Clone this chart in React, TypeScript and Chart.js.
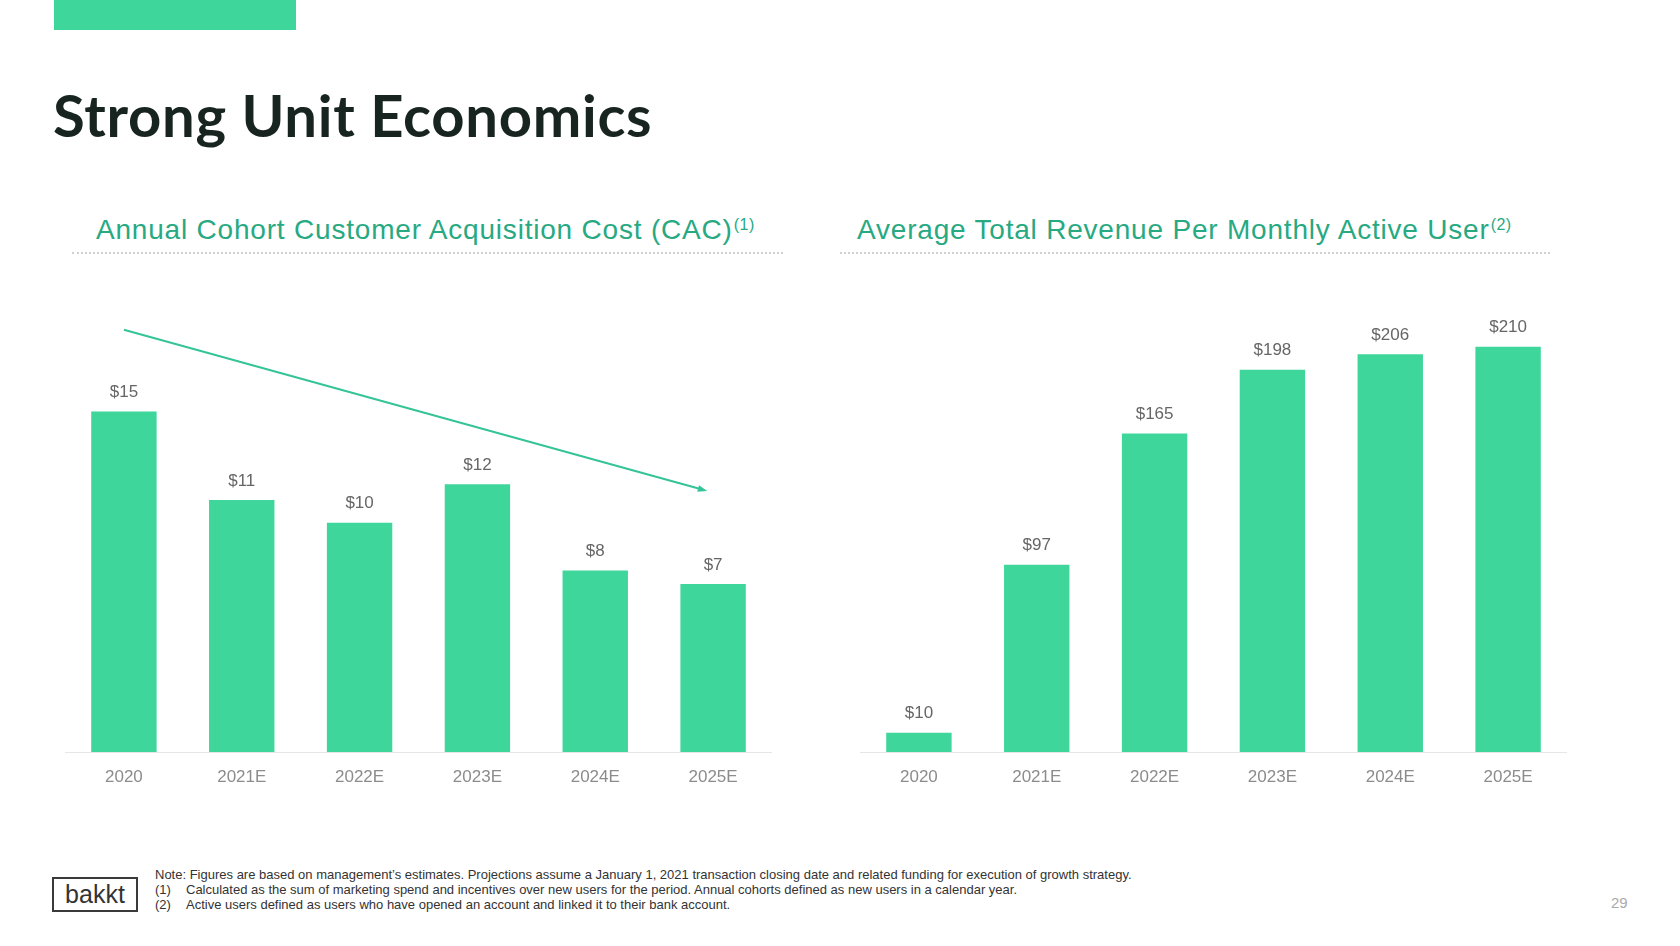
import React, { useEffect, useRef } from "react";
import { Chart, registerables } from "chart.js";

Chart.register(...registerables);

// ---- data ----
const categories = ["2020", "2021E", "2022E", "2023E", "2024E", "2025E"];
const cacValues = [15.0, 11.1, 10.1, 11.8, 8.0, 7.4];
const arpuValues = [10, 97, 165, 198, 206, 210];
// trend arrow on the CAC chart: [category index, value]
const trendStart = [0, 18.6];
const trendEnd = [4.95, 11.5];

const cacTitle = "Annual Cohort Customer Acquisition Cost (CAC)";
const arpuTitle = "Average Total Revenue Per Monthly Active User";
const footNote = "Note: Figures are based on management\u2019s estimates. Projections assume a January 1, 2021 transaction closing date and related funding for execution of growth strategy.";
const footOne = "Calculated as the sum of marketing spend and incentives over new users for the period. Annual cohorts defined as new users in a calendar year.";
const footTwo = "Active users defined as users who have opened an account and linked it to their bank account.";

const BAR = "#3ed69a";
const FONT = "'Liberation Sans', Arial, sans-serif";

const valueLabelPlugin = {
  id: "valueLabels",
  afterDatasetsDraw(chart: any) {
    const { ctx } = chart;
    const meta = chart.getDatasetMeta(0);
    const data = chart.data.datasets[0].data as number[];
    ctx.save();
    ctx.font = `17px ${FONT}`;
    ctx.fillStyle = "#666666";
    ctx.textAlign = "center";
    ctx.textBaseline = "middle";
    meta.data.forEach((bar: any, i: number) => {
      ctx.fillText("$" + Math.round(data[i]), bar.x, bar.y - 19);
    });
    ctx.restore();
  },
};

const arrowPlugin = {
  id: "trendArrow",
  afterDatasetsDraw(chart: any, _args: any, opts: any) {
    if (!opts || !opts.enabled) return;
    const { ctx, scales } = chart;
    const x1 = scales.x.getPixelForValue(trendStart[0]);
    const y1 = scales.y.getPixelForValue(trendStart[1]);
    const x2 = scales.x.getPixelForValue(trendEnd[0]);
    const y2 = scales.y.getPixelForValue(trendEnd[1]);
    const ang = Math.atan2(y2 - y1, x2 - x1);
    const head = 10;
    ctx.save();
    ctx.strokeStyle = "#34c497";
    ctx.fillStyle = "#34c497";
    ctx.lineWidth = 2;
    ctx.beginPath();
    ctx.moveTo(x1, y1);
    ctx.lineTo(x2 - Math.cos(ang) * head * 0.8, y2 - Math.sin(ang) * head * 0.8);
    ctx.stroke();
    ctx.beginPath();
    ctx.moveTo(x2, y2);
    ctx.lineTo(x2 - head * Math.cos(ang - 0.35), y2 - head * Math.sin(ang - 0.35));
    ctx.lineTo(x2 - head * Math.cos(ang + 0.35), y2 - head * Math.sin(ang + 0.35));
    ctx.closePath();
    ctx.fill();
    ctx.restore();
  },
};

function BarChart(props: { values: number[]; yMax: number; arrow: boolean; left: number }) {
  const ref = useRef<HTMLCanvasElement | null>(null);
  useEffect(() => {
    if (!ref.current) return;
    const chart = new Chart(ref.current, {
      type: "bar",
      data: {
        labels: categories,
        datasets: [
          {
            data: props.values,
            backgroundColor: BAR,
            borderWidth: 0,
            barPercentage: 0.555,
            categoryPercentage: 1,
          },
        ],
      },
      options: {
        responsive: false,
        animation: false,
        devicePixelRatio: 1,
        layout: { padding: 0 },
        plugins: {
          legend: { display: false },
          tooltip: { enabled: false },
          trendArrow: { enabled: props.arrow },
        } as any,
        scales: {
          x: {
            grid: { display: true, color: "rgba(0,0,0,0)", drawTicks: false },
            border: { display: true, color: "#e6e6e6", width: 1 },
            ticks: {
              color: "#8c8c8c",
              font: { family: FONT, size: 17 },
              padding: 15,
            },
            afterFit(scale: any) {
              scale.height = 45;
            },
          },
          y: {
            display: false,
            min: 0,
            max: props.yMax,
          },
        },
      },
      plugins: [valueLabelPlugin, arrowPlugin],
    });
    return () => chart.destroy();
  }, []);
  return (
    <canvas
      ref={ref}
      width={707}
      height={499}
      style={{ position: "absolute", left: props.left, top: 298, width: 707, height: 499 }}
    />
  );
}

export default function App() {
  const sub: React.CSSProperties = {
    position: "absolute",
    top: 213,
    fontFamily: FONT,
    fontSize: 28,
    letterSpacing: "0.8px",
    color: "#27a982",
    whiteSpace: "nowrap",
    lineHeight: "34px",
  };
  const sup: React.CSSProperties = { fontSize: 16, letterSpacing: "0.5px", verticalAlign: "top", position: "relative", top: -5, marginLeft: 1 };
  const dots = (left: number, width: number): React.CSSProperties => ({
    position: "absolute",
    left,
    top: 252,
    width,
    height: 0,
    borderTop: "2px dotted #cfcfcf",
  });
  const foot: React.CSSProperties = {
    position: "absolute",
    fontFamily: FONT,
    fontSize: 13,
    color: "#333",
    whiteSpace: "nowrap",
    lineHeight: "15px",
  };
  return (
    <div style={{ position: "absolute", left: 0, top: 0, width: 1680, height: 946, background: "#fff", overflow: "hidden" }}>
      <div style={{ position: "absolute", left: 54, top: 0, width: 242, height: 30, background: BAR }} />
      <div
        style={{
          position: "absolute",
          left: 53,
          top: 80,
          fontFamily: "Lato, sans-serif",
          fontWeight: 700,
          fontSize: 58,
          letterSpacing: "0.7px",
          lineHeight: "70px",
          color: "#17241f",
          whiteSpace: "nowrap",
        }}
      >
        Strong Unit Economics
      </div>

      <div style={{ ...sub, left: 96 }}>
        {cacTitle}
        <span style={sup}>(1)</span>
      </div>
      <div style={dots(72, 711)} />
      <div style={{ ...sub, left: 857 }}>
        {arpuTitle}
        <span style={sup}>(2)</span>
      </div>
      <div style={dots(840, 710)} />

      <BarChart values={cacValues} yMax={20} arrow={true} left={65} />
      <BarChart values={arpuValues} yMax={235.2} arrow={false} left={860} />

      <div
        style={{
          position: "absolute",
          left: 52,
          top: 877,
          width: 82,
          height: 31,
          border: "2px solid #3a3a3a",
          fontFamily: FONT,
          fontSize: 25,
          lineHeight: "31px",
          textAlign: "center",
          color: "#333",
        }}
      >
        bakkt
      </div>
      <div style={{ ...foot, left: 155, top: 867 }}>{footNote}</div>
      <div style={{ ...foot, left: 155, top: 882 }}>(1)</div>
      <div style={{ ...foot, left: 186, top: 882 }}>{footOne}</div>
      <div style={{ ...foot, left: 155, top: 897 }}>(2)</div>
      <div style={{ ...foot, left: 186, top: 897 }}>{footTwo}</div>
      <div style={{ position: "absolute", left: 1611, top: 894, fontFamily: FONT, fontSize: 15, color: "#aaa" }}>29</div>
    </div>
  );
}
